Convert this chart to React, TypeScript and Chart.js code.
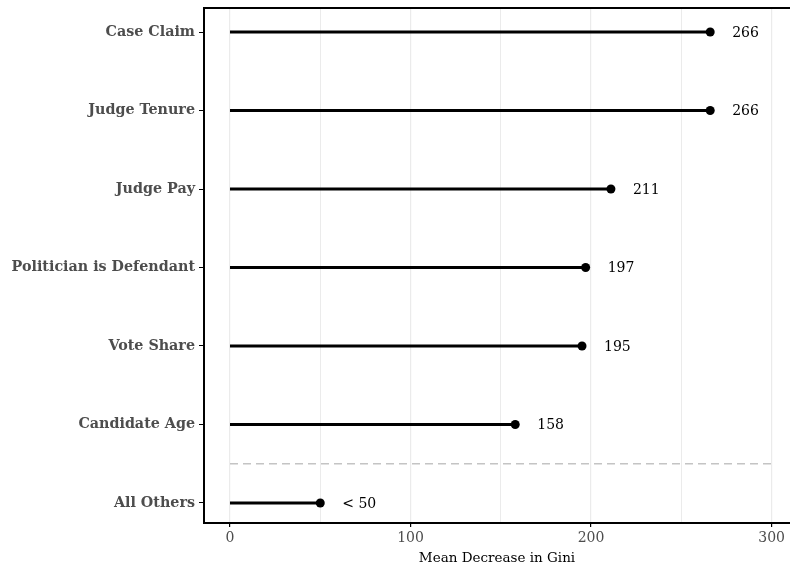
import React, { useEffect, useRef } from "react";
import { Chart, registerables } from "chart.js";

Chart.register(...registerables);

const categories = [
  "Case Claim",
  "Judge Tenure",
  "Judge Pay",
  "Politician is Defendant",
  "Vote Share",
  "Candidate Age",
  "All Others",
];
const values = [266, 266, 211, 197, 195, 158, 50];
const valueLabels = ["266", "266", "211", "197", "195", "158", "< 50"];
const xTickValues = [0, 100, 200, 300];
const separatorAfter = 5; // dashed line between "Candidate Age" and "All Others"
const separatorRange = [0, 300];

const n = categories.length;
const yPos = (i: number) => n - i;

const SERIF = "'DejaVu Serif', 'Liberation Serif', serif";

export default function App() {
  const ref = useRef<HTMLCanvasElement | null>(null);

  useEffect(() => {
    document.body.style.margin = "0";
    const canvas = ref.current;
    if (!canvas) return;

    const datasets: any[] = categories.map((c, i) => ({
      label: c,
      data: [
        { x: 0, y: yPos(i) },
        { x: values[i], y: yPos(i) },
      ],
      showLine: true,
      borderColor: "#000000",
      backgroundColor: "#000000",
      borderWidth: 3,
      pointRadius: (ctx: any) => (ctx.dataIndex === 1 ? 4.5 : 0),
      pointHoverRadius: 0,
      pointBorderWidth: 0,
    }));

    const sepY = yPos(separatorAfter) - 0.5;
    datasets.push({
      label: "separator",
      data: [
        { x: separatorRange[0], y: sepY },
        { x: separatorRange[1], y: sepY },
      ],
      showLine: true,
      borderColor: "#c4c4c4",
      borderWidth: 1.5,
      borderDash: [8, 5],
      pointRadius: 0,
    });

    const labelPlugin = {
      id: "valueLabels",
      afterDatasetsDraw(chart: any) {
        const { ctx, scales } = chart;
        ctx.save();
        ctx.font = `14px ${SERIF}`;
        ctx.fillStyle = "#000000";
        ctx.textBaseline = "middle";
        ctx.textAlign = "left";
        categories.forEach((_, i) => {
          const x = scales.x.getPixelForValue(values[i]);
          const y = scales.y.getPixelForValue(yPos(i));
          ctx.fillText(valueLabels[i], x + 22, y + 1);
        });
        ctx.restore();
      },
    };

    const topBorder = {
      id: "topBorder",
      afterDraw(chart: any) {
        const { ctx, chartArea } = chart;
        ctx.save();
        ctx.strokeStyle = "#000000";
        ctx.lineWidth = 2;
        ctx.beginPath();
        ctx.moveTo(chartArea.left - 1, chartArea.top);
        ctx.lineTo(chartArea.right, chartArea.top);
        ctx.stroke();
        ctx.restore();
      },
    };

    const chart = new Chart(canvas, {
      type: "scatter",
      data: { datasets },
      options: {
        animation: false,
        responsive: false,
        maintainAspectRatio: false,
        layout: { autoPadding: false, padding: { top: 8, right: 0, left: 0, bottom: 0 } },
        plugins: { legend: { display: false }, tooltip: { enabled: false } },
        scales: {
          x: {
            type: "linear",
            min: -14.4,
            max: 310.2,
            afterBuildTicks: (scale: any) => {
              const t: any[] = [];
              for (let v = 0; v <= 300; v += 50) t.push({ value: v });
              scale.ticks = t;
            },
            afterFit: (scale: any) => {
              scale.height = 48;
              scale.paddingLeft = 0;
              scale.paddingRight = 0;
            },
            ticks: {
              callback: (v: any) => (xTickValues.includes(Number(v)) ? String(v) : ""),
              color: "#4d4d4d",
              font: { family: SERIF, size: 14 },
              padding: 3,
              maxRotation: 0,
              autoSkip: false,
            },
            grid: {
              color: "#ebebeb",
              lineWidth: (ctx: any) => (xTickValues.includes(ctx.tick?.value) ? 1.2 : 1),
              tickColor: (ctx: any) =>
                xTickValues.includes(ctx.tick?.value) ? "#000000" : "rgba(0,0,0,0)",
              tickLength: 4,
            },
            border: { display: true, color: "#000000", width: 2 },
            title: {
              display: true,
              text: "Mean Decrease in Gini",
              color: "#000000",
              font: { family: SERIF, size: 13.5 },
              padding: { top: 0, bottom: 4 },
            },
          },
          y: {
            type: "linear",
            min: 0.745,
            max: 7.306,
            afterBuildTicks: (scale: any) => {
              scale.ticks = categories.map((_, i) => ({ value: yPos(i) }));
            },
            afterFit: (scale: any) => {
              scale.width = 204;
              scale.paddingTop = 0;
              scale.paddingBottom = 0;
            },
            ticks: {
              callback: (v: any) => categories[n - Number(v)] ?? "",
              color: "#4d4d4d",
              font: { family: SERIF, size: 14.3, weight: "bold" },
              padding: 4,
              autoSkip: false,
            },
            grid: {
              drawOnChartArea: false,
              tickColor: "#000000",
              tickLength: 5,
            },
            border: { display: true, color: "#000000", width: 2 },
          },
        },
      } as any,
      plugins: [labelPlugin, topBorder],
    });

    return () => chart.destroy();
  }, []);

  return (
    <div style={{ width: 790, height: 571 }}>
      <canvas ref={ref} width={790} height={571} style={{ display: "block" }} />
    </div>
  );
}
